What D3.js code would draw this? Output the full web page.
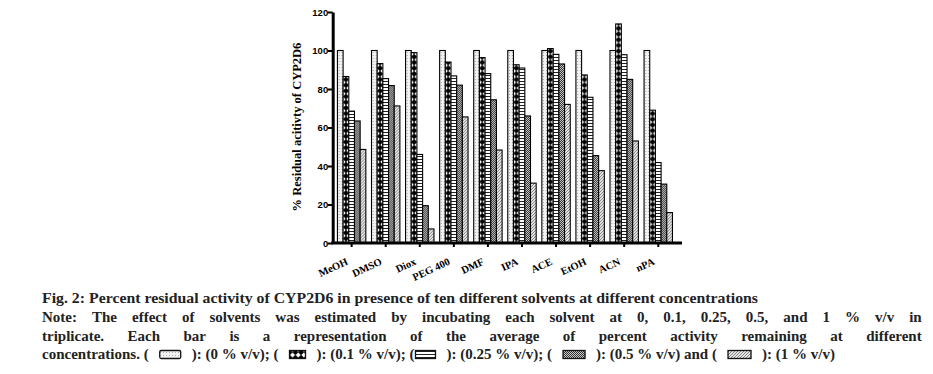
<!DOCTYPE html>
<html>
<head>
<meta charset="utf-8">
<script src="https://cdn.jsdelivr.net/npm/d3@7"></script>
<style>
	body { margin: 0; background: #fff; }
	svg { display: block; }
	.tick_label { font-family: "Liberation Sans", Arial, sans-serif; font-weight: bold; font-size: 9.5px; }
	.solvent_label { font-family: "Liberation Serif", "Times New Roman", serif; font-weight: bold; font-size: 10.5px; }
	.axis_title { font-family: "Liberation Serif", "Times New Roman", serif; font-weight: bold; font-size: 12.5px; }
	.caption { font-family: "Liberation Serif", "Times New Roman", serif; font-weight: bold; font-size: 15px; fill: #222; }
</style>
</head>
<body>
<div id="chart"></div>
<script>
var solvents = ["MeOH", "DMSO", "Diox", "PEG 400", "DMF", "IPA", "ACE", "EtOH", "ACN", "nPA"];
var concentrations = ["0 %", "0.1 %", "0.25 %", "0.5 %", "1 %"];
var conc0 = [100, 100, 100, 100, 100, 100, 100, 100, 100, 100];
var conc01 = [86.5, 93.2, 98.9, 94, 96.3, 92.6, 101, 87.3, 113.8, 69];
var conc025 = [68.5, 85.4, 46, 86.8, 88, 90.9, 98, 75.7, 97.8, 41.8];
var conc05 = [63.4, 81.8, 19.4, 82, 74.4, 66, 93, 45.4, 85, 30.6];
var conc1 = [48.6, 71.2, 7.3, 65.5, 48.3, 31.1, 72, 37.6, 53, 15.8];
var yTicks = [0, 20, 40, 60, 80, 100, 120];

var series = [conc0, conc01, conc025, conc05, conc1];
var patternIds = ["p_dots", "p_cross", "p_hlines", "p_checker", "p_diag"];

var width = 933, height = 374;
var svg = d3.select("#chart").append("svg")
	.attr("width", width)
	.attr("height", height);

// fill patterns
var defs = svg.append("defs");

var p0 = defs.append("pattern").attr("id", "p_dots").attr("patternUnits", "userSpaceOnUse")
	.attr("width", 3).attr("height", 3);
p0.append("rect").attr("width", 3).attr("height", 3).attr("fill", "#f2f2f2");
p0.append("rect").attr("x", 1).attr("y", 1).attr("width", 1).attr("height", 1).attr("fill", "#aaa");

var p1 = defs.append("pattern").attr("id", "p_cross").attr("patternUnits", "userSpaceOnUse")
	.attr("width", 5.68).attr("height", 5.68);
p1.append("rect").attr("width", 5.68).attr("height", 5.68).attr("fill", "#000");
p1.append("polygon").attr("points", "2.84,0.3 5.4,2.84 2.84,5.4 0.3,2.84").attr("fill", "#fff");

var p2 = defs.append("pattern").attr("id", "p_hlines").attr("patternUnits", "userSpaceOnUse")
	.attr("width", 4).attr("height", 3);
p2.append("rect").attr("width", 4).attr("height", 3).attr("fill", "#fff");
p2.append("rect").attr("y", 0).attr("width", 4).attr("height", 1).attr("fill", "#222");

var p3 = defs.append("pattern").attr("id", "p_checker").attr("patternUnits", "userSpaceOnUse")
	.attr("width", 2).attr("height", 2);
p3.append("rect").attr("width", 2).attr("height", 2).attr("fill", "#c8c8c8");
p3.append("rect").attr("width", 1).attr("height", 1).attr("fill", "#333");
p3.append("rect").attr("x", 1).attr("y", 1).attr("width", 1).attr("height", 1).attr("fill", "#333");

var p4 = defs.append("pattern").attr("id", "p_diag").attr("patternUnits", "userSpaceOnUse")
	.attr("width", 3).attr("height", 3);
p4.append("rect").attr("width", 3).attr("height", 3).attr("fill", "#e6e6e6");
p4.append("path").attr("d", "M0,3 L3,0 M-1,1 L1,-1 M2,4 L4,2").attr("stroke", "#777").attr("stroke-width", 0.9);

// scales
var x = d3.scaleBand().domain(solvents).range([334.6, 675.3]).padding(0);
var xInner = d3.scaleBand().domain(d3.range(concentrations.length)).range([2.83, 31.23]).padding(0);
var y = d3.scaleLinear().domain([0, 120]).range([243, 12]);

// bars
var groups = svg.selectAll("g.group")
	.data(solvents)
	.enter().append("g")
	.attr("class", "group")
	.attr("transform", function(d) { return "translate(" + x(d) + ",0)"; });

groups.selectAll("rect.bar")
	.data(function(d, i) { return series.map(function(s, j) { return { k: j, v: s[i] }; }); })
	.enter().append("rect")
	.attr("class", "bar")
	.attr("x", function(d) { return xInner(d.k); })
	.attr("width", xInner.bandwidth())
	.attr("y", function(d) { return y(d.v); })
	.attr("height", function(d) { return y(0) - y(d.v); })
	.attr("fill", function(d) { return "url(#" + patternIds[d.k] + ")"; })
	.attr("stroke", "#000")
	.attr("stroke-width", 1.1);

// y axis
var yAxis = svg.append("g")
	.attr("transform", "translate(332.7,0)")
	.call(d3.axisLeft(y).tickValues(yTicks).tickSize(5).tickSizeOuter(0));
yAxis.select(".domain").attr("stroke-width", 3);
yAxis.selectAll(".tick line").attr("stroke-width", 2);
yAxis.selectAll(".tick text").attr("class", "tick_label").attr("x", -4.5).attr("dy", "0.35em");

// x axis
var xAxis = svg.append("g")
	.attr("transform", "translate(0,243)")
	.call(d3.axisBottom(x).tickSize(4).tickSizeOuter(0).tickFormat(""));
xAxis.select(".domain").remove();
xAxis.selectAll(".tick line").attr("stroke-width", 2);
svg.append("line")
	.attr("x1", 331.2).attr("x2", 682)
	.attr("y1", 243).attr("y2", 243)
	.attr("stroke", "#000").attr("stroke-width", 3);

svg.selectAll("text.solvent_label")
	.data(solvents)
	.enter().append("text")
	.attr("class", "solvent_label")
	.style("text-anchor", "end")
	.attr("transform", function(d) { return "translate(" + (x(d) + x.bandwidth() / 2 - 3) + ",264) rotate(-25)"; })
	.text(function(d) { return d; });

svg.append("text")
	.attr("class", "axis_title")
	.attr("transform", "translate(300.5,127) rotate(-90)")
	.style("text-anchor", "middle")
	.text("% Residual acitivty of CYP2D6");

// caption
var left = 42, right = 921.7;
svg.append("text")
	.attr("class", "caption")
	.attr("x", left).attr("y", 303)
	.attr("textLength", 716).attr("lengthAdjust", "spacingAndGlyphs")
	.text("Fig. 2: Percent residual activity of CYP2D6 in presence of ten different solvents at different concentrations");

function measure(str) {
	var t = svg.append("text").attr("class", "caption").text(str);
	var w = t.node().getComputedTextLength();
	t.remove();
	return w;
}

function justifyLine(words, yPos) {
	var g = svg.append("g");
	var nodes = words.map(function(w) {
		return g.append("text").attr("class", "caption").attr("y", yPos).text(w);
	});
	var widths = nodes.map(function(n) { return n.node().getComputedTextLength(); });
	var gap = (right - left - d3.sum(widths)) / (words.length - 1);
	var cx = left;
	nodes.forEach(function(n, i) {
		n.attr("x", cx);
		cx += widths[i] + gap;
	});
}
justifyLine("Note: The effect of solvents was estimated by incubating each solvent at 0, 0.1, 0.25, 0.5, and 1 % v/v in".split(" "), 321.7);
justifyLine("triplicate. Each bar is a representation of the average of percent activity remaining at different".split(" "), 340.5);

// legend line: words, spaces and pattern swatches; extra room goes to the spaces beside swatches
var legendPieces = ["concentrations. ( ", 0, " ): (0 % v/v); ( ", 1, " ): (0.1 % v/v); (", 2, " ): (0.25 % v/v); ( ", 3, " ): (0.5 % v/v) and ( ", 4, " ): (1 % v/v)"];
var swatchWidths = [21, 16, 20, 22, 23];
var legendEnd = 835;
var items = [];
legendPieces.forEach(function(p) {
	if (typeof p === "number") {
		items.push({ type: "swatch", k: p });
	} else {
		p.split(" ").forEach(function(w, i) {
			if (i > 0) items.push({ type: "space" });
			if (w.length) items.push({ type: "word", text: w, w: measure(w) });
		});
	}
});
items.forEach(function(it, i) {
	if (it.type === "space") {
		var prev = items[i - 1], next = items[i + 1];
		it.wide = (prev && prev.type === "swatch") || (next && next.type === "swatch");
	}
});
var spaceW = measure("a b") - measure("ab");
var natural = d3.sum(items, function(it) {
	return it.type === "word" ? it.w : it.type === "space" ? spaceW : swatchWidths[it.k] + 2;
});
var nWide = items.filter(function(it) { return it.wide; }).length;
var extra = Math.max(0, (legendEnd - left - natural) / nWide);
var lx = left;
items.forEach(function(it) {
	if (it.type === "word") {
		svg.append("text").attr("class", "caption").attr("x", lx).attr("y", 359).text(it.text);
		lx += it.w;
	} else if (it.type === "space") {
		lx += spaceW + (it.wide ? extra : 0);
	} else {
		svg.append("rect")
			.attr("x", lx + 1).attr("y", 350.5)
			.attr("width", swatchWidths[it.k]).attr("height", 8)
			.attr("rx", it.k === 0 ? 1.5 : 0)
			.attr("fill", "url(#" + patternIds[it.k] + ")")
			.attr("stroke", "#111").attr("stroke-width", 1.3);
		lx += swatchWidths[it.k] + 2;
	}
});
</script>
</body>
</html>
